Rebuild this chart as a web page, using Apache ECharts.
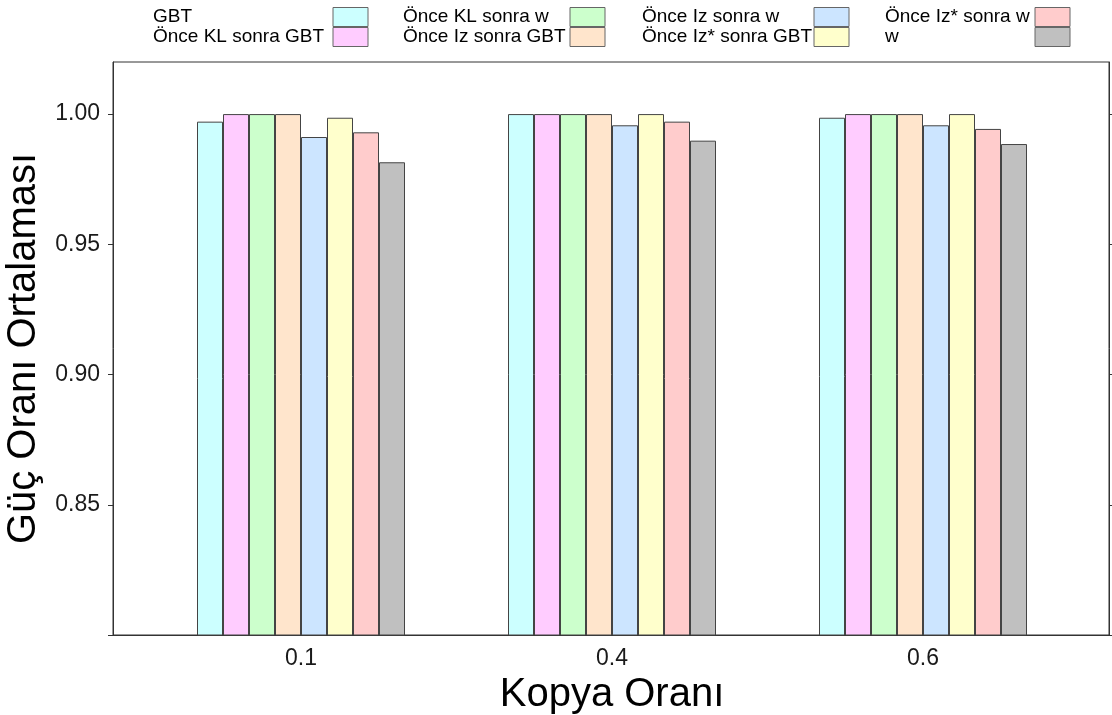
<!DOCTYPE html>
<html>
<head>
<meta charset="utf-8">
<script src="https://cdn.jsdelivr.net/npm/echarts@6/dist/echarts.min.js"></script>
<style>
  html, body { margin: 0; padding: 0; background: #fff; }
  #chart { width: 1112px; height: 715px; }
</style>
</head>
<body>
<div id="chart"></div>
<script>
// kopya oranlari (x ekseni)
const categories = ['0.1', '0.4', '0.6']

// yontemler, cubuk sirasiyla
const seriesNames = [
    'GBT', 'Önce KL sonra GBT', 'Önce KL sonra w', 'Önce Iz sonra GBT',
    'Önce Iz sonra w', 'Önce Iz* sonra GBT', 'Önce Iz* sonra w', 'w'
]
const colors = ['#CCFFFF', '#FFCCFF', '#CCFFCC', '#FFE5CC', '#CCE5FF', '#FFFFCC', '#FFCCCC', '#C0C0C0']

// guc orani ortalamalari, her seri icin [0.1, 0.4, 0.6]
const gbt          = [0.9971, 1.0000, 0.9986]
const klGbt        = [1.0000, 1.0000, 1.0000]
const klW          = [1.0000, 1.0000, 1.0000]
const izGbt        = [1.0000, 1.0000, 1.0000]
const izW          = [0.9912, 0.9957, 0.9957]
const izStarGbt    = [0.9986, 1.0000, 1.0000]
const izStarW      = [0.9930, 0.9971, 0.9943]
const w            = [0.9815, 0.9898, 0.9885]
const values = [gbt, klGbt, klW, izGbt, izW, izStarGbt, izStarW, w]

// y ekseni
const yMin = 0.80
const yMax = 1.02
const yTicks = [0.80, 0.85, 0.90, 0.95, 1.00]
const yLabels = [0.85, 0.90, 0.95, 1.00]

const FONT = 'Liberation Sans, Arial, sans-serif'

const myChart = echarts.init(document.getElementById('chart'))

// lejant: 4 sutun, her sutunda 2 kalem, metin solda kutu sagda
const legendCols = [
    { names: [seriesNames[0], seriesNames[1]], left: 153, width: 175 },
    { names: [seriesNames[2], seriesNames[3]], left: 403, width: 162 },
    { names: [seriesNames[4], seriesNames[5]], left: 642, width: 167 },
    { names: [seriesNames[6], seriesNames[7]], left: 885, width: 145 }
]
const legends = legendCols.map(c => ({
    data: c.names,
    orient: 'vertical',
    align: 'right',
    left: c.left,
    top: 7,
    padding: 0,
    itemGap: 0,
    itemWidth: 35,
    itemHeight: 19,
    selectedMode: false,
    icon: 'rect',
    itemStyle: { borderColor: '#666', borderWidth: 1 },
    formatter: name => '{a|' + name + '}',
    textStyle: {
        rich: {
            a: { width: c.width, align: 'left', fontSize: 19, lineHeight: 19, height: 19, fontFamily: FONT, color: '#000' }
        }
    }
}))

const option = {
    animation: false,
    backgroundColor: '#fff',
    legend: legends,
    grid: [
        // cerceve
        { left: 113, right: 3, top: 62, bottom: 80, show: true, borderColor: '#333', borderWidth: 1, outerBoundsMode: 'none', containLabel: false },
        // cubuklar
        { left: 145.5, right: 33.5, top: 62, bottom: 80, outerBoundsMode: 'none', containLabel: false }
    ],
    xAxis: [
        {
            gridIndex: 0, type: 'value', min: 0, max: 1,
            axisLine: { show: true, lineStyle: { color: '#333' } },
            axisTick: { show: false }, axisLabel: { show: false }, splitLine: { show: false }
        },
        {
            gridIndex: 1, type: 'category', data: categories,
            axisLine: { show: false }, axisTick: { show: false }, splitLine: { show: false },
            axisLabel: { fontSize: 23, color: '#1a1a1a', fontFamily: FONT, margin: 12 },
            name: 'Kopya Oranı', nameLocation: 'middle', nameGap: 35,
            nameTextStyle: { fontSize: 40, color: '#000', fontFamily: FONT }
        }
    ],
    yAxis: [
        {
            gridIndex: 0, type: 'value', min: yMin, max: yMax, position: 'left',
            axisLine: { show: true, lineStyle: { color: '#333' } },
            axisTick: { show: true, length: 5, customValues: yTicks, lineStyle: { color: '#333' } },
            axisLabel: {
                customValues: yLabels, fontSize: 23, color: '#1a1a1a', fontFamily: FONT, margin: 13,
                formatter: v => v.toFixed(2)
            },
            splitLine: { show: false },
            name: 'Güç Oranı Ortalaması', nameLocation: 'middle', nameRotate: 90, nameGap: 61,
            nameTextStyle: { fontSize: 40, color: '#000', fontFamily: FONT }
        },
        {
            gridIndex: 0, type: 'value', min: yMin, max: yMax, position: 'right',
            axisLine: { show: true, lineStyle: { color: '#333' } },
            axisTick: { show: true, length: 4, customValues: yTicks, lineStyle: { color: '#333' } },
            axisLabel: { show: false }, splitLine: { show: false }
        },
        {
            gridIndex: 1, type: 'value', min: yMin, max: yMax, show: false
        }
    ],
    series: seriesNames.map((name, i) => ({
        name: name,
        type: 'bar',
        xAxisIndex: 1,
        yAxisIndex: 2,
        data: values[i],
        barWidth: 26,
        barGap: '0%',
        itemStyle: { color: colors[i], borderColor: '#444', borderWidth: 1 }
    }))
}

myChart.setOption(option)
</script>
</body>
</html>
